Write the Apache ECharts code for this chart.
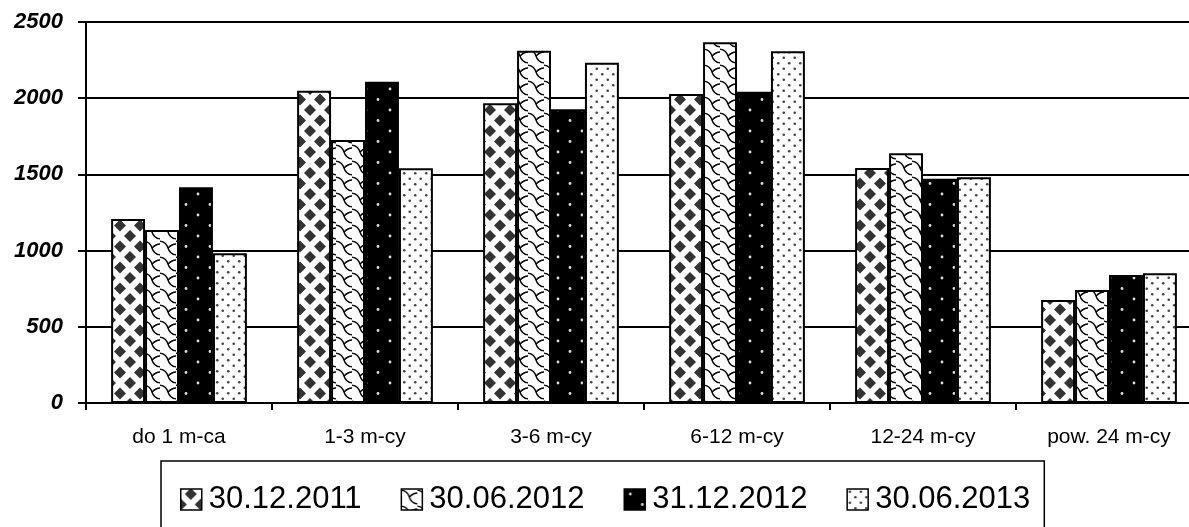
<!DOCTYPE html>
<html>
<head>
<meta charset="utf-8">
<script src="https://cdn.jsdelivr.net/npm/echarts@6/dist/echarts.min.js"></script>
<style>
html,body{margin:0;padding:0;background:#fff;overflow:hidden;}
#chart{width:1189px;height:527px;}
</style>
</head>
<body>
<div id="chart"></div>
<script>
var categories = ['do 1 m-ca', '1-3 m-cy', '3-6 m-cy', '6-12 m-cy', '12-24 m-cy', 'pow. 24 m-cy'];
var seriesNames = ['30.12.2011', '30.06.2012', '31.12.2012', '30.06.2013'];
var s2011_12 = [1207, 2049, 1967, 2028, 1542, 676];
var s2012_06 = [1135, 1726, 2312, 2367, 1638, 741];
var s2012_12 = [1415, 2108, 1927, 2043, 1472, 840];
var s2013_06 = [982, 1540, 2233, 2308, 1481, 851];
var yTicks = [0, 500, 1000, 1500, 2000, 2500];

function makeCanvas(w, h, draw) {
  var c = document.createElement('canvas');
  c.width = w; c.height = h;
  var ctx = c.getContext('2d');
  draw(ctx, w, h);
  return c;
}
// diamonds
var pat1 = makeCanvas(20, 21, function (ctx, w, h) {
  ctx.fillStyle = '#fff'; ctx.fillRect(0, 0, w, h);
  ctx.fillStyle = '#333';
  function dia(cx, cy) {
    ctx.beginPath();
    ctx.moveTo(cx, cy - 6); ctx.lineTo(cx + 6, cy); ctx.lineTo(cx, cy + 6); ctx.lineTo(cx - 6, cy);
    ctx.closePath(); ctx.fill();
  }
  dia(10, 5); dia(10, 26); dia(0, 15.5); dia(20, 15.5); dia(0, -5.5); dia(20, -5.5);
});
// shingle / wave
var pat2 = makeCanvas(16, 16, function (ctx, w, h) {
  ctx.fillStyle = '#fff'; ctx.fillRect(0, 0, w, h);
  ctx.strokeStyle = '#000'; ctx.lineWidth = 1.4;
  ctx.beginPath();
  ctx.moveTo(-2, 1); ctx.quadraticCurveTo(6, 1, 8, 8); ctx.quadraticCurveTo(10, 15, 18, 15);
  ctx.stroke();
  ctx.beginPath();
  ctx.moveTo(8, 8); ctx.quadraticCurveTo(12, 4, 16, 4);
  ctx.stroke();
});
// black with white dots
var pat3 = makeCanvas(24, 21, function (ctx, w, h) {
  ctx.fillStyle = '#000'; ctx.fillRect(0, 0, w, h);
  ctx.fillStyle = '#ddd';
  [[6, 5], [18, 15.5]].forEach(function (p) {
    ctx.beginPath(); ctx.arc(p[0], p[1], 1.4, 0, Math.PI * 2); ctx.fill();
  });
});
// white with dark dots
var pat4 = makeCanvas(11, 11, function (ctx, w, h) {
  ctx.fillStyle = '#fff'; ctx.fillRect(0, 0, w, h);
  ctx.fillStyle = '#444';
  [[2.75, 2.75], [8.25, 8.25]].forEach(function (p) {
    ctx.beginPath(); ctx.arc(p[0], p[1], 1.3, 0, Math.PI * 2); ctx.fill();
  });
});
var patterns = [pat1, pat2, pat3, pat4];
var dataSets = [s2011_12, s2012_06, s2012_12, s2013_06];

var series = seriesNames.map(function (n, i) {
  return {
    name: n,
    type: 'bar',
    data: dataSets[i],
    barGap: '0%',
    barCategoryGap: '27%',
    itemStyle: {
      color: { image: patterns[i], repeat: 'repeat' },
      borderColor: '#000',
      borderWidth: 2
    }
  };
});

var chart = echarts.init(document.getElementById('chart'), null, { renderer: 'canvas' });
chart.setOption({
  animation: false,
  backgroundColor: '#fff',
  grid: { left: 86, width: 1116, top: 22, bottom: 124, containLabel: false, outerBoundsMode: 'none' },
  xAxis: {
    type: 'category',
    data: categories,
    axisLine: { lineStyle: { color: '#000', width: 2 } },
    axisTick: { show: true, length: 7, lineStyle: { color: '#000', width: 2 } },
    axisLabel: { color: '#000', fontSize: 21, fontFamily: 'Liberation Sans, Arial, sans-serif', margin: 24 },
    splitLine: { show: false }
  },
  yAxis: {
    type: 'value',
    min: yTicks[0],
    max: yTicks[yTicks.length - 1],
    interval: 500,
    axisLine: { show: true, lineStyle: { color: '#000', width: 2 } },
    axisTick: { show: true, length: 8, lineStyle: { color: '#000', width: 2 } },
    axisLabel: {
      color: '#000', fontSize: 22, fontWeight: 'bold', fontStyle: 'italic',
      fontFamily: 'Liberation Sans, Arial, sans-serif', margin: 23,
      formatter: function (v) { return String(v); }
    },
    splitLine: { show: true, lineStyle: { color: '#000', width: 2 } }
  },
  legend: {
    data: seriesNames,
    left: 161,
    top: 461,
    orient: 'horizontal',
    itemWidth: 21,
    itemHeight: 21,
    itemGap: 39,
    padding: [23, 14, 23, 19],
    borderColor: '#000',
    borderWidth: 1.5,
    icon: 'rect',
    itemStyle: { borderColor: '#000', borderWidth: 1.5 },
    textStyle: { color: '#000', fontSize: 31, fontFamily: 'Liberation Sans, Arial, sans-serif', padding: [0, 0, 0, 2] }
  },
  series: series
});
</script>
</body>
</html>
